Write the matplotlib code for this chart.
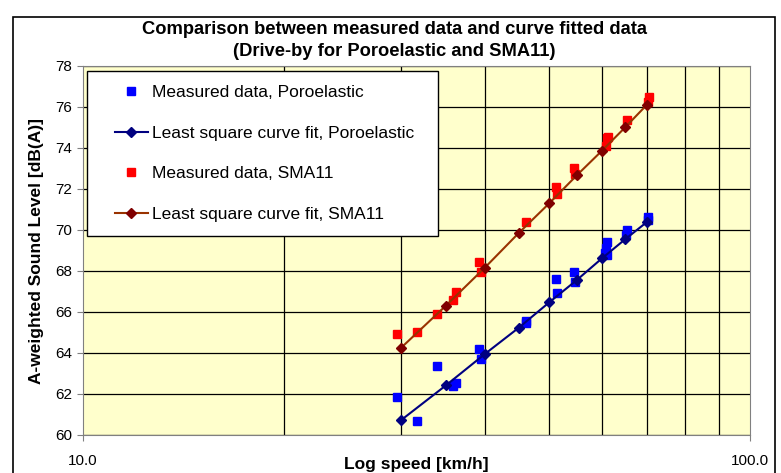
import matplotlib
matplotlib.use("Agg")
import matplotlib.pyplot as plt
from matplotlib.patches import Rectangle
from matplotlib.ticker import FixedLocator, NullFormatter, FixedFormatter

plt.rcParams['font.family'] = ['Liberation Sans', 'DejaVu Sans']

# measured data, Poroelastic (speed km/h, dB(A))
poro_speed = [29.6, 31.7, 34.0, 35.9, 36.2, 39.3, 39.5, 46.1, 46.2, 51.2, 51.4,
              54.4, 54.6, 61.0, 60.8, 60.6, 61.1, 65.3, 65.2, 70.4, 70.2]
poro_level = [61.85, 60.70, 63.37, 62.40, 62.52, 64.18, 63.70, 65.45, 65.58, 67.60, 66.94,
              67.93, 67.45, 69.43, 69.10, 68.86, 68.78, 70.00, 69.76, 70.65, 70.50]

# measured data, SMA11
sma_speed = [29.6, 31.7, 34.0, 35.9, 36.2, 39.2, 39.5, 46.1, 51.2, 51.3,
             54.4, 54.6, 60.8, 61.0, 61.3, 65.3, 70.5, 70.3]
sma_level = [64.94, 65.01, 65.90, 66.57, 66.99, 68.42, 67.97, 70.38, 72.08, 71.76,
             73.00, 72.75, 74.10, 74.49, 74.52, 75.37, 76.50, 76.25]

# least square fits
fit_speed = [30, 35, 40, 45, 50, 55, 60, 65, 70]
poro_fit = [60.73, 62.42, 63.94, 65.23, 66.47, 67.56, 68.62, 69.55, 70.38]
sma_fit = [64.26, 66.31, 68.15, 69.85, 71.30, 72.67, 73.87, 75.01, 76.10]

W, H = 781, 473
fig = plt.figure(figsize=(W / 100, H / 100), dpi=100)
ax = fig.add_axes([83 / W, 1 - 435 / H, 667 / W, 369 / H])
ax.set_facecolor('#FFFFCC')

# chart border
fig.patches.append(Rectangle((13 / W, -0.05), 762 / W, 1 - 17 / H + 0.05,
                             transform=fig.transFigure, fill=False,
                             edgecolor='black', linewidth=1.2))

ax.plot(poro_speed, poro_level, 's', color='#0000FF', markersize=6,
        label='Measured data, Poroelastic', zorder=3)
ax.plot(fit_speed, poro_fit, '-D', color='#000080', markersize=5, linewidth=1.5,
        label='Least square curve fit, Poroelastic', zorder=4)
ax.plot(sma_speed, sma_level, 's', color='#FF0000', markersize=6,
        label='Measured data, SMA11', zorder=3)
ax.plot(fit_speed, sma_fit, '-D', color='#993300', markerfacecolor='#800000',
        markeredgecolor='#800000', markersize=5, linewidth=1.5,
        label='Least square curve fit, SMA11', zorder=4)

ax.set_xscale('log')
ax.set_xlim(10, 100)
ax.set_ylim(60, 78)
ax.xaxis.set_major_locator(FixedLocator([10, 100]))
ax.xaxis.set_major_formatter(FixedFormatter(['10.0', '100.0']))
ax.xaxis.set_minor_locator(FixedLocator([20, 30, 40, 50, 60, 70, 80, 90]))
ax.xaxis.set_minor_formatter(NullFormatter())
ax.set_yticks(range(60, 79, 2))

ax.grid(True, which='minor', axis='x', color='black', linewidth=0.9)
ax.grid(True, which='major', axis='y', color='black', linewidth=0.9)
ax.set_axisbelow(True)

ax.tick_params(axis='both', which='both', direction='out', length=4,
               color='#808080', labelsize=11)
ax.tick_params(axis='x', which='major', pad=10)
ax.tick_params(axis='x', which='minor', length=0)
for side in ax.spines.values():
    side.set_color('#808080')

ax.set_xlabel('Log speed [km/h]', fontsize=12.5, fontweight='bold', labelpad=-8)
ax.set_ylabel('A-weighted Sound Level [dB(A)]', fontsize=12.5, fontweight='bold', labelpad=8)

fig.text(394 / W, 1 - 30 / H, 'Comparison between measured data and curve fitted data',
         ha='center', va='center', fontsize=13.2, fontweight='bold')
fig.text(394 / W, 1 - 52 / H, '(Drive-by for Poroelastic and SMA11)',
         ha='center', va='center', fontsize=13.2, fontweight='bold')

# legend box drawn by hand, legend itself frameless
ax.add_patch(Rectangle((4 / 667, 199 / 369), 351 / 667, 165 / 369, transform=ax.transAxes,
                       facecolor='white', edgecolor='black', linewidth=1.0, zorder=5))
leg = ax.legend(loc='upper left', bbox_to_anchor=(32 / 667, 350 / 369), borderaxespad=0,
                borderpad=0, fontsize=12.5, labelspacing=1.47, handlelength=1.9,
                handletextpad=0.23, frameon=False)
leg.set_zorder(6)

fig.savefig('out.png', dpi=100)
